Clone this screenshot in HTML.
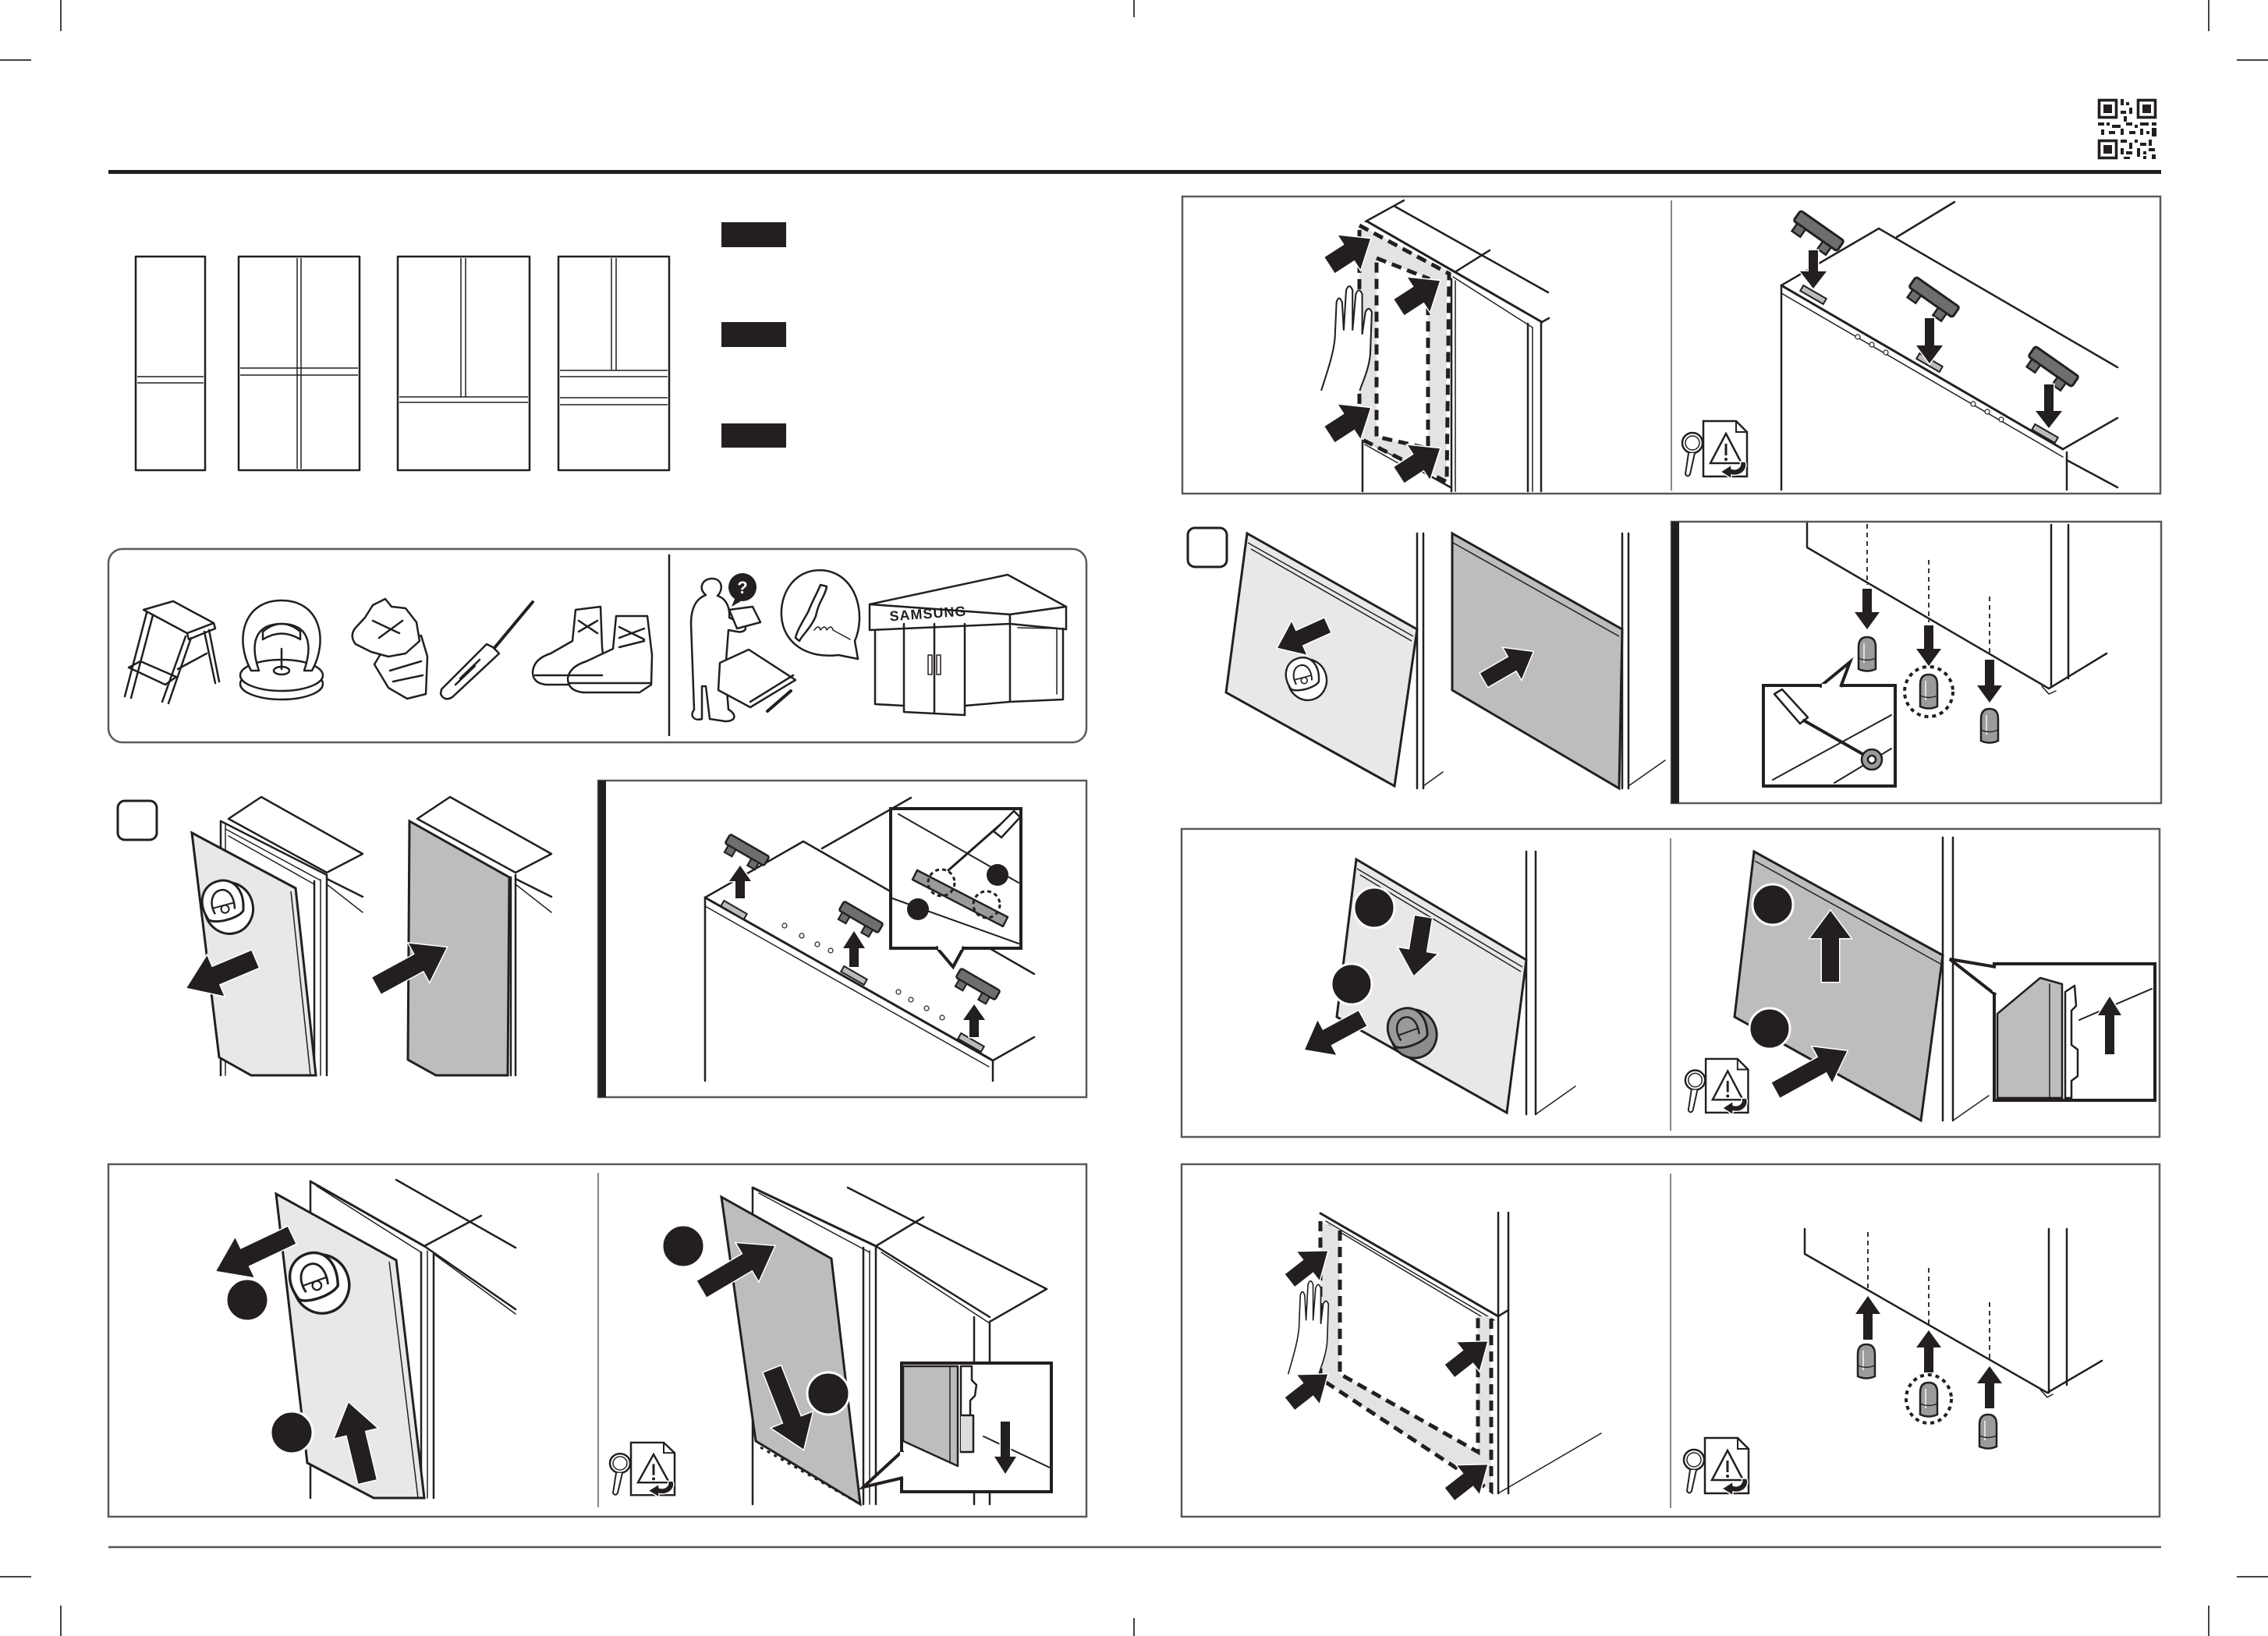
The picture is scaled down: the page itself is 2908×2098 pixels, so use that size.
<!DOCTYPE html>
<html><head><meta charset="utf-8"><style>
html,body{margin:0;padding:0;background:#fff;}
svg{display:block;}
.k{stroke:#231f20;fill:none;stroke-width:2.5;stroke-linejoin:round;stroke-linecap:round}
.t{stroke:#231f20;fill:none;stroke-width:1.5}
.g{stroke:#5a5a5a;fill:none;stroke-width:2.5}
.ar{fill:#231f20;stroke:#fff;stroke-width:3;paint-order:stroke;stroke-linejoin:miter}
.ds{stroke:#231f20;fill:none;stroke-width:5;stroke-dasharray:13 8}
.dl{stroke:#231f20;fill:none;stroke-width:1.8;stroke-dasharray:6 5}
</style></head><body>
<svg width="2908" height="2098" viewBox="0 0 2908 2098" xmlns="http://www.w3.org/2000/svg" font-family="Liberation Sans, sans-serif">
<defs>
<g id="warn">
<path d="M30,2 H72 L86,16 V73 H30 Z" fill="#fff" stroke="#231f20" stroke-width="2.5"/>
<path d="M72,2 V16 H86" fill="none" stroke="#231f20" stroke-width="2"/>
<path d="M59,18 L79,56 H39 Z" fill="#fff" stroke="#231f20" stroke-width="2.5"/>
<line x1="59" y1="31" x2="59" y2="46" stroke="#231f20" stroke-width="3"/>
<circle cx="59" cy="51" r="2" fill="#231f20"/>
<circle cx="16" cy="30" r="13" fill="#fff" stroke="#231f20" stroke-width="2.5"/>
<circle cx="16" cy="30" r="9" fill="none" stroke="#231f20" stroke-width="1.5"/>
<path d="M11,43 L7,70 Q10,75 13,70 L19,43" fill="#fff" stroke="#231f20" stroke-width="2"/>
<path d="M84,54 A15,13 0 0 1 66,71 L66,76 L52,67 L66,58 L66,63 A8,7 0 0 0 77,54 Z" fill="#231f20" stroke="#fff" stroke-width="1.5"/>
</g>
<g id="cup">
<ellipse cx="5" cy="6" rx="31" ry="33" fill="#fff" stroke="#231f20" stroke-width="3"/>
<path d="M-24,14 C-33,-12 -20,-31 0,-31 C20,-31 31,-12 22,14 C14,22 -16,22 -24,14 Z" fill="#fff" stroke="#231f20" stroke-width="3"/>
<path d="M-14,9 C-18,-8 -10,-19 0,-19 C10,-19 16,-8 12,9" fill="none" stroke="#231f20" stroke-width="2.5"/>
<line x1="-14" y1="1" x2="14" y2="1" stroke="#231f20" stroke-width="2"/>
<circle cx="0" cy="6" r="5" fill="none" stroke="#231f20" stroke-width="2"/>
</g>
<g id="cupg">
<ellipse cx="5" cy="6" rx="31" ry="33" fill="#8c8c8c" stroke="#231f20" stroke-width="3"/>
<path d="M-24,14 C-33,-12 -20,-31 0,-31 C20,-31 31,-12 22,14 C14,22 -16,22 -24,14 Z" fill="#9a9a9a" stroke="#231f20" stroke-width="3"/>
<path d="M-14,9 C-18,-8 -10,-19 0,-19 C10,-19 16,-8 12,9" fill="none" stroke="#231f20" stroke-width="2.5"/>
<line x1="-14" y1="1" x2="14" y2="1" stroke="#231f20" stroke-width="2"/>
</g>
<g id="pin">
<path d="M-11,20 V-8 Q-11,-21 0,-21 Q11,-21 11,-8 V20 Q0,25 -11,20 Z" fill="#9b9b9b" stroke="#231f20" stroke-width="2.5"/>
<path d="M-4,-13 V12" stroke="#e0e0e0" stroke-width="2"/>
<path d="M-11,6 Q0,11 11,6" fill="none" stroke="#231f20" stroke-width="1.5"/>
</g>
<g id="clip">
<rect x="-34" y="-8" width="68" height="16" rx="3" fill="#6e6e6e" stroke="#231f20" stroke-width="3"/>
<rect x="-28" y="8" width="13" height="12" fill="#6e6e6e" stroke="#231f20" stroke-width="2.5"/>
<rect x="12" y="8" width="13" height="12" fill="#6e6e6e" stroke="#231f20" stroke-width="2.5"/>
</g>
<g id="slot">
<rect x="-17" y="-4" width="34" height="8" fill="#bbb" stroke="#231f20" stroke-width="2"/>
</g>
<g id="hand">
<path d="M2,133 C10,108 17,88 19,68 L21,23 Q24,13 28,23 L30,58 L33,8 Q37,-2 41,8 L41,58 L45,13 Q49,3 53,13 L53,63 L57,35 Q61,27 65,35 L63,88 C61,108 53,123 50,133" fill="#fff" stroke="#231f20" stroke-width="2"/>
</g>
</defs>

<!-- crop marks -->
<g stroke="#444" stroke-width="2">
<line x1="78" y1="0" x2="78" y2="40"/><line x1="0" y1="77" x2="40" y2="77"/>
<line x1="1454" y1="0" x2="1454" y2="22"/>
<line x1="2832" y1="0" x2="2832" y2="40"/><line x1="2868" y1="77" x2="2908" y2="77"/>
<line x1="0" y1="2022" x2="40" y2="2022"/><line x1="78" y1="2059" x2="78" y2="2098"/>
<line x1="1454" y1="2075" x2="1454" y2="2098"/>
<line x1="2832" y1="2059" x2="2832" y2="2098"/><line x1="2868" y1="2022" x2="2908" y2="2022"/>
</g>

<!-- top and bottom rules -->
<rect x="139" y="218" width="2632" height="5" fill="#231f20"/>
<line x1="139" y1="1984" x2="2771" y2="1984" stroke="#555" stroke-width="2.5"/>

<!-- QR -->
<g fill="#231f20">
<rect x="2691.5" y="128.5" width="22" height="22" fill="none" stroke="#231f20" stroke-width="3.6"/>
<rect x="2697" y="134" width="11" height="11"/>
<rect x="2741.5" y="128.5" width="22" height="22" fill="none" stroke="#231f20" stroke-width="3.6"/>
<rect x="2747" y="134" width="11" height="11"/>
<rect x="2691.5" y="180.5" width="22" height="22" fill="none" stroke="#231f20" stroke-width="3.6"/>
<rect x="2697" y="186" width="11" height="11"/>
<rect x="2719" y="127" width="4" height="8"/><rect x="2726" y="131" width="4" height="4"/><rect x="2730" y="138" width="4" height="8"/>
<rect x="2719" y="142" width="7" height="4"/><rect x="2723" y="149" width="4" height="7"/><rect x="2690" y="157" width="8" height="4"/>
<rect x="2701" y="157" width="4" height="4"/><rect x="2708" y="160" width="11" height="4"/><rect x="2726" y="157" width="8" height="4"/>
<rect x="2737" y="160" width="4" height="4"/><rect x="2744" y="157" width="11" height="4"/><rect x="2759" y="157" width="6" height="4"/>
<rect x="2694" y="166" width="4" height="7"/><rect x="2704" y="168" width="8" height="4"/><rect x="2719" y="165" width="4" height="8"/>
<rect x="2730" y="168" width="8" height="4"/><rect x="2744" y="165" width="4" height="8"/><rect x="2752" y="168" width="4" height="4"/>
<rect x="2759" y="164" width="6" height="11"/><rect x="2719" y="179" width="8" height="4"/><rect x="2730" y="183" width="4" height="8"/>
<rect x="2737" y="179" width="4" height="4"/><rect x="2744" y="183" width="8" height="4"/><rect x="2755" y="179" width="4" height="8"/>
<rect x="2719" y="190" width="4" height="8"/><rect x="2726" y="194" width="8" height="4"/><rect x="2740" y="190" width="4" height="11"/>
<rect x="2748" y="194" width="4" height="4"/><rect x="2755" y="190" width="8" height="4"/><rect x="2723" y="201" width="8" height="3"/>
<rect x="2748" y="200" width="4" height="4"/><rect x="2759" y="198" width="5" height="6"/>
</g>

<!-- fridge type icons -->
<g>
<rect x="174" y="329" width="89" height="274" class="k"/>
<line x1="176" y1="483" x2="261" y2="483" class="t"/><line x1="176" y1="491" x2="261" y2="491" class="t"/>
<rect x="306" y="329" width="155" height="274" class="k"/>
<line x1="381" y1="331" x2="381" y2="601" class="t"/><line x1="386" y1="331" x2="386" y2="601" class="t"/>
<line x1="308" y1="472" x2="459" y2="472" class="t"/><line x1="308" y1="481" x2="459" y2="481" class="t"/>
<rect x="510" y="329" width="169" height="274" class="k"/>
<line x1="591" y1="331" x2="591" y2="509" class="t"/><line x1="597" y1="331" x2="597" y2="509" class="t"/>
<line x1="512" y1="509" x2="677" y2="509" class="t"/><line x1="512" y1="516" x2="677" y2="516" class="t"/>
<rect x="716" y="329" width="142" height="274" class="k"/>
<line x1="784" y1="331" x2="784" y2="475" class="t"/><line x1="790" y1="331" x2="790" y2="475" class="t"/>
<line x1="718" y1="475" x2="856" y2="475" class="t"/><line x1="718" y1="483" x2="856" y2="483" class="t"/>
<line x1="718" y1="510" x2="856" y2="510" class="t"/><line x1="718" y1="519" x2="856" y2="519" class="t"/>
</g>
<rect x="925" y="285" width="83" height="32" fill="#231f20"/>
<rect x="925" y="413" width="83" height="32" fill="#231f20"/>
<rect x="925" y="543" width="83" height="31" fill="#231f20"/>

<!-- tools panel -->
<rect x="139" y="704" width="1254" height="248" rx="18" class="g"/>
<line x1="858" y1="711" x2="858" y2="944" stroke="#231f20" stroke-width="2.5"/>
<!-- ladder -->
<g class="k">
<path d="M184,782 L222,771 L274,799 L240,812 Z"/>
<path d="M240,812 L242,820 L276,806 L274,799"/>
<line x1="188" y1="786" x2="160" y2="893"/><line x1="196" y1="789" x2="168" y2="895"/>
<line x1="238" y1="816" x2="208" y2="900"/><line x1="245" y1="818" x2="216" y2="902"/>
<line x1="262" y1="810" x2="276" y2="876"/><line x1="268" y1="808" x2="281" y2="874"/>
<path d="M165,856 L180,848 L226,868 L212,878 Z"/>
<line x1="228" y1="858" x2="265" y2="838"/>
</g>
<!-- suction tool -->
<g class="k" stroke-width="3">
<ellipse cx="361" cy="877" rx="53" ry="20" fill="#fff"/>
<ellipse cx="361" cy="866" rx="53" ry="20" fill="#fff"/>
<path d="M322,860 C300,820 312,770 361,770 C410,770 422,820 400,860 L390,860 C402,825 395,800 361,800 C327,800 320,825 332,860 Z" fill="#fff"/>
<path d="M337,810 Q361,790 385,810 L385,820 Q361,805 337,820 Z"/>
<line x1="361" y1="832" x2="361" y2="858"/><ellipse cx="361" cy="860" rx="10" ry="5"/>
</g>
<!-- gloves -->
<g class="k">
<path d="M492,832 L540,815 L548,842 L546,890 L522,896 L498,882 L480,852 Z" fill="#fff"/>
<path d="M455,806 L468,792 L478,776 L494,768 L502,778 L520,780 L534,798 L538,822 L520,838 L498,842 L476,836 L456,826 Q448,816 455,806 Z" fill="#fff"/>
<path d="M478,796 L512,812 M486,818 L516,796 M500,860 L540,848 M504,874 L542,866"/>
</g>
<!-- screwdriver -->
<g class="k">
<line x1="683" y1="772" x2="628" y2="838" stroke-width="4"/>
<path d="M632,830 L640,838 L580,894 Q570,900 565,890 L566,884 L624,826 Z" fill="#fff"/>
<line x1="590" y1="870" x2="615" y2="846"/><line x1="584" y1="878" x2="609" y2="854"/>
</g>
<!-- boots -->
<g class="k">
<path d="M738,782 L770,778 L772,830 L776,866 L762,878 L700,878 Q683,876 683,862 Q684,845 706,838 L734,822 Z" fill="#fff"/>
<path d="M790,790 L830,790 L836,840 L835,878 L820,888 L748,888 Q728,886 728,870 Q730,855 752,848 L786,832 Z" fill="#fff"/>
<line x1="686" y1="866" x2="772" y2="866"/><line x1="730" y1="876" x2="834" y2="876"/>
<path d="M742,796 L766,812 M742,810 L766,796 M794,804 L826,820 M794,818 L826,806 M794,830 L826,822"/>
</g>
<!-- person -->
<g class="k">
<path d="M905,763 C895,755 900,742 913,742 C926,742 928,756 920,764 C932,768 936,780 935,792 L952,800 C960,805 955,812 945,810 L934,808 L930,860 L934,910 C944,915 945,925 930,925 L910,922 L905,880 L900,880 L900,922 C890,925 884,918 890,910 L888,855 L886,800 C886,780 892,768 905,763 Z" fill="#fff"/>
<path d="M935,782 L965,778 L975,798 L945,806 Z" fill="#fff"/>
<path d="M923,850 L960,833 L1020,872 L962,907 L921,885 Z" fill="#fff"/>
<line x1="962" y1="900" x2="1017" y2="866"/>
<line x1="984" y1="912" x2="1014" y2="886" stroke-width="4"/>
</g>
<circle cx="952" cy="753" r="18" fill="#231f20"/>
<path d="M942,768 L938,778 L950,771 Z" fill="#231f20"/>
<text x="952" y="761" font-size="22" font-weight="bold" fill="#fff" text-anchor="middle">?</text>
<!-- phone bubble -->
<g class="k" stroke-width="3">
<path d="M1096,822 C1110,790 1100,740 1060,732 C1020,726 1000,760 1002,790 C1004,825 1035,845 1075,840 L1100,845 Z" fill="#fff"/>
<path d="M1052,750 L1060,752 C1058,765 1050,770 1046,790 C1040,805 1028,815 1025,822 L1020,818 C1022,808 1030,796 1036,785 C1042,770 1048,760 1052,750 Z" fill="#fff"/>
<path d="M1044,808 q6,-8 8,0 q6,-8 8,0 q6,-8 8,0 L1090,820" stroke-width="1.5"/>
</g>
<!-- store -->
<g class="k">
<path d="M1115,775 L1292,737 L1367,778 L1295,788 Z" fill="#fff"/>
<path d="M1115,775 L1295,788 L1295,800 L1115,808 Z" fill="#fff"/>
<path d="M1295,788 L1367,778 L1367,807 L1295,800 Z" fill="#fff"/>
<path d="M1122,808 L1122,903 L1159,905 M1159,800 L1159,913 L1237,917 L1237,800 M1198,800 L1198,915 M1237,905 L1295,900 L1295,800 M1295,900 L1363,897 L1363,806"/>
<path d="M1305,805 L1355,806 L1355,890" stroke-width="1.5"/>
<rect x="1190" y="840" width="5" height="25" stroke-width="1.5"/><rect x="1201" y="840" width="5" height="25" stroke-width="1.5"/>
</g>
<text x="1190" y="793" font-size="18" font-weight="bold" fill="#231f20" text-anchor="middle" letter-spacing="1" transform="rotate(-4 1190 788)">SAMSUNG</text>

<!-- STEP 1 -->
<rect x="151" y="1027" width="50" height="50" rx="9" fill="none" stroke="#231f20" stroke-width="3"/>
<g class="k">
<path d="M293,1050 L335,1022 L465,1095 L419,1119 Z"/>
<line x1="283" y1="1053" x2="283" y2="1379"/><line x1="289" y1="1058" x2="289" y2="1379" class="t"/>
<line x1="283" y1="1053" x2="419" y2="1122"/><line x1="289" y1="1063" x2="411" y2="1129" class="t"/>
<line x1="293" y1="1072" x2="403" y2="1134" class="t"/>
<line x1="403" y1="1130" x2="403" y2="1379"/><line x1="411" y1="1128" x2="411" y2="1379" class="t"/><line x1="419" y1="1122" x2="419" y2="1379"/>
<line x1="419" y1="1127" x2="465" y2="1150"/><line x1="419" y1="1134" x2="465" y2="1170" class="t"/>
</g>
<path d="M246,1068 L379,1139 L405,1379 L322,1379 L281,1356 Z" fill="#e8e8e8" stroke="#231f20" stroke-width="3"/>
<line x1="373" y1="1143" x2="398" y2="1379" stroke="#231f20" stroke-width="1.5"/>
<use href="#cup" transform="translate(287,1160) rotate(-15)"/>
<path class="ar" transform="translate(327,1230) rotate(157.2)" d="M0,-12H55V-28L95,0L55,28V12H0Z"/>
<g class="k">
<path d="M535,1050 L577,1022 L707,1095 L661,1119 Z"/>
<line x1="655" y1="1125" x2="655" y2="1379"/><line x1="661" y1="1122" x2="661" y2="1379"/>
<line x1="661" y1="1127" x2="707" y2="1150"/><line x1="661" y1="1134" x2="707" y2="1170" class="t"/>
</g>
<path d="M525,1053 L653,1125 L651,1379 L559,1379 L523,1359 Z" fill="#bdbdbd" stroke="#231f20" stroke-width="3"/>
<path class="ar" transform="translate(483,1264) rotate(-28.6)" d="M0,-12H62V-28L102,0L62,28V12H0Z"/>

<!-- STEP 1 right inset -->
<rect x="767" y="1001" width="626" height="406" class="g"/>
<rect x="767" y="1001" width="10" height="406" fill="#231f20"/>
<g class="k">
<path d="M904,1386 V1151 L1030,1079 L1326,1249"/>
<line x1="1054" y1="1088" x2="1168" y2="1023"/>
<line x1="904" y1="1151" x2="1273" y2="1360" stroke-width="3"/>
<line x1="904" y1="1162" x2="1268" y2="1368" class="t"/>
<line x1="1273" y1="1360" x2="1326" y2="1330"/>
<line x1="1273" y1="1360" x2="1273" y2="1386"/>
</g>
<g fill="#fff" stroke="#231f20" stroke-width="1.2">
<circle cx="1006" cy="1187" r="3"/><circle cx="1028" cy="1200" r="3"/><circle cx="1048" cy="1211" r="3"/><circle cx="1065" cy="1219" r="3"/>
<circle cx="1152" cy="1272" r="3"/><circle cx="1168" cy="1282" r="3"/><circle cx="1188" cy="1293" r="3"/><circle cx="1208" cy="1305" r="3"/>
</g>
<use href="#slot" transform="translate(941,1167) rotate(30)"/>
<use href="#slot" transform="translate(1095,1251) rotate(30)"/>
<use href="#slot" transform="translate(1245,1337) rotate(30)"/>
<use href="#clip" transform="translate(958,1090) rotate(30) scale(0.85)"/>
<use href="#clip" transform="translate(1104,1176) rotate(30) scale(0.85)"/>
<use href="#clip" transform="translate(1254,1262) rotate(30) scale(0.85)"/>
<path class="ar" transform="translate(949,1152) rotate(-90)" d="M0,-6H22V-14L42,0L22,14V6H0Z"/>
<path class="ar" transform="translate(1095,1240) rotate(-90)" d="M0,-6H24V-14L46,0L24,14V6H0Z"/>
<path class="ar" transform="translate(1249,1330) rotate(-90)" d="M0,-6H22V-14L42,0L22,14V6H0Z"/>
<rect x="1142" y="1037" width="167" height="179" fill="#fff" stroke="#231f20" stroke-width="4"/>
<path d="M1200,1214 L1222,1240 L1236,1214" fill="#fff" stroke="#231f20" stroke-width="4"/>
<line x1="1203" y1="1216" x2="1233" y2="1216" stroke="#fff" stroke-width="4"/>
<g class="k">
<line x1="1152" y1="1044" x2="1306" y2="1132" stroke-width="2"/>
<line x1="1144" y1="1152" x2="1306" y2="1210" stroke-width="2"/>
<path d="M1176,1116 L1292,1176 L1286,1188 L1170,1128 Z" fill="#9a9a9a"/>
<line x1="1216" y1="1116" x2="1282" y2="1058" stroke-width="3"/>
<path d="M1274,1066 L1300,1040 L1308,1048 L1284,1074 Z" fill="#fff"/>
</g>
<circle cx="1279" cy="1122" r="14" fill="#231f20"/>
<circle cx="1177" cy="1166" r="14" fill="#231f20"/>
<circle cx="1207" cy="1132" r="17" fill="none" stroke="#231f20" stroke-width="3" stroke-dasharray="5 4"/>
<circle cx="1265" cy="1160" r="17" fill="none" stroke="#231f20" stroke-width="3" stroke-dasharray="5 4"/>

<!-- bottom-left panel -->
<rect x="139" y="1493" width="1254" height="452" class="g"/>
<line x1="767" y1="1504" x2="767" y2="1933" stroke="#888" stroke-width="2"/>
<g class="k">
<line x1="398" y1="1515" x2="398" y2="1921"/>
<line x1="398" y1="1515" x2="544" y2="1598" stroke-width="3"/><line x1="406" y1="1521" x2="540" y2="1606" class="t"/>
<line x1="544" y1="1598" x2="661" y2="1679"/><line x1="556" y1="1608" x2="661" y2="1685" class="t"/>
<line x1="508" y1="1513" x2="661" y2="1600"/><line x1="617" y1="1559" x2="544" y2="1598"/>
<line x1="540" y1="1606" x2="540" y2="1921"/><line x1="548" y1="1604" x2="548" y2="1921" class="t"/><line x1="556" y1="1608" x2="556" y2="1921"/>
</g>
<path d="M354,1531 L508,1616 L544,1921 L479,1921 L394,1876 Z" fill="#e8e8e8" stroke="#231f20" stroke-width="3"/>
<line x1="499" y1="1618" x2="536" y2="1921" stroke="#231f20" stroke-width="1.5"/>
<use href="#cup" transform="translate(404,1642) rotate(-20) scale(1.15)"/>
<circle cx="317" cy="1667" r="27" fill="#231f20" stroke="#fff" stroke-width="3"/>
<circle cx="374" cy="1837" r="27" fill="#231f20" stroke="#fff" stroke-width="3"/>
<path class="ar" transform="translate(374,1584) rotate(154.6)" d="M0,-12H67V-28L107,0L67,28V12H0Z"/>
<path class="ar" transform="translate(471,1900) rotate(-103.4)" d="M0,-12H64V-28L104,0L64,28V12H0Z"/>
<g class="k">
<line x1="965" y1="1523" x2="965" y2="1929"/>
<line x1="965" y1="1523" x2="1123" y2="1598" stroke-width="3"/><line x1="973" y1="1530" x2="1115" y2="1606" class="t"/>
<line x1="1123" y1="1598" x2="1269" y2="1689"/><line x1="1130" y1="1606" x2="1269" y2="1697" class="t"/>
<line x1="1087" y1="1523" x2="1342" y2="1653"/><line x1="1184" y1="1561" x2="1123" y2="1598"/>
<line x1="1269" y1="1695" x2="1342" y2="1653"/>
<line x1="1107" y1="1600" x2="1107" y2="1929"/><line x1="1115" y1="1604" x2="1115" y2="1929" class="t"/><line x1="1123" y1="1600" x2="1123" y2="1929"/>
<line x1="1249" y1="1689" x2="1249" y2="1929"/><line x1="1269" y1="1697" x2="1269" y2="1929"/>
</g>
<path d="M925,1535 L1066,1614 L1103,1929 L969,1848 Z" fill="#bdbdbd" stroke="#231f20" stroke-width="3"/>
<line x1="975" y1="1856" x2="1098" y2="1926" stroke="#231f20" stroke-width="3" stroke-dasharray="4 6"/>
<circle cx="876" cy="1598" r="27" fill="#231f20" stroke="#fff" stroke-width="3"/>
<circle cx="1062" cy="1787" r="27" fill="#231f20" stroke="#fff" stroke-width="3"/>
<path class="ar" transform="translate(900,1653) rotate(-30.6)" d="M0,-12H68V-28L108,0L68,28V12H0Z"/>
<path class="ar" transform="translate(990,1756) rotate(68.6)" d="M0,-12H70V-28L110,0L70,28V12H0Z"/>
<rect x="1156" y="1748" width="192" height="165" fill="#fff" stroke="#231f20" stroke-width="4"/>
<path d="M1158,1860 L1107,1907 L1158,1895" fill="#fff" stroke="#231f20" stroke-width="4"/>
<line x1="1156" y1="1862" x2="1156" y2="1893" stroke="#fff" stroke-width="4"/>
<g class="k">
<path d="M1158,1752 L1228,1752 L1228,1880 L1158,1848 Z" fill="#bdbdbd"/>
<line x1="1218" y1="1752" x2="1218" y2="1875" class="t"/>
<path d="M1232,1752 L1246,1752 L1246,1770 L1252,1776 L1250,1790 L1244,1796 L1244,1862 L1232,1862 Z" fill="#fff"/>
<path d="M1232,1815 L1248,1815 L1248,1862 L1232,1862" fill="#ddd"/>
<line x1="1261" y1="1842" x2="1346" y2="1882" stroke-width="2"/>
</g>
<path class="ar" transform="translate(1289,1823) rotate(90)" d="M0,-6H45V-14L67,0L45,14V6H0Z"/>
<use href="#warn" transform="translate(779,1848) scale(1,0.95)"/>

<!-- PANEL A -->
<rect x="1516" y="252" width="1254" height="381" class="g"/>
<line x1="2143" y1="257" x2="2143" y2="629" stroke="#888" stroke-width="2"/>
<g class="k">
<line x1="1751" y1="284" x2="1800" y2="257"/>
<line x1="1789" y1="265" x2="1985" y2="375"/>
<line x1="1910" y1="321" x2="1867" y2="348"/>
<line x1="1753" y1="284" x2="1977" y2="413" stroke-width="3"/>
<line x1="1863" y1="355" x2="1965" y2="420" class="t"/>
<line x1="1959" y1="415" x2="1959" y2="630"/><line x1="1965" y1="420" x2="1965" y2="630" class="t"/><line x1="1976" y1="413" x2="1976" y2="630"/>
<line x1="1977" y1="413" x2="1986" y2="408"/>
<line x1="1861" y1="358" x2="1861" y2="630"/><line x1="1866" y1="360" x2="1866" y2="630" class="t"/>
<line x1="1747" y1="562" x2="1747" y2="630"/>
<line x1="1747" y1="562" x2="1860" y2="625"/><line x1="1750" y1="570" x2="1800" y2="598" class="t"/>
</g>
<path d="M1743,289 L1863,350 L1855,352 L1855,618 L1743,562 Z M1765,331 L1831,357 L1831,575 L1765,560 Z" fill="#e3e3e3" fill-rule="evenodd"/>
<path d="M1743,289 L1858,351 L1855,618 L1743,562 Z" class="ds"/>
<path d="M1765,331 L1831,357 L1831,575 L1765,560 Z" class="ds"/>
<use href="#hand" transform="translate(1692,364) scale(1.03,1.03)"/>
<path class="ar" transform="translate(1705,340) rotate(-33)" d="M0,-12H30V-26L62,0L30,26V12H0Z"/>
<path class="ar" transform="translate(1794,394) rotate(-33)" d="M0,-12H30V-26L62,0L30,26V12H0Z"/>
<path class="ar" transform="translate(1705,557) rotate(-33)" d="M0,-12H30V-26L62,0L30,26V12H0Z"/>
<path class="ar" transform="translate(1794,609) rotate(-33)" d="M0,-12H30V-26L62,0L30,26V12H0Z"/>
<g class="k">
<line x1="2506" y1="259" x2="2432" y2="304"/>
<line x1="2409" y1="293" x2="2284" y2="366"/>
<line x1="2409" y1="293" x2="2715" y2="471"/>
<line x1="2284" y1="366" x2="2645" y2="576" stroke-width="3"/>
<line x1="2284" y1="376" x2="2645" y2="586" class="t"/>
<line x1="2645" y1="576" x2="2715" y2="536"/>
<line x1="2284" y1="366" x2="2284" y2="628"/>
<line x1="2650" y1="580" x2="2650" y2="628"/>
<line x1="2650" y1="590" x2="2715" y2="625"/>
</g>
<g fill="#fff" stroke="#231f20" stroke-width="1.2">
<circle cx="2382" cy="432" r="3"/><circle cx="2400" cy="442" r="3"/><circle cx="2418" cy="452" r="3"/>
<circle cx="2530" cy="518" r="3"/><circle cx="2548" cy="528" r="3"/><circle cx="2566" cy="538" r="3"/>
</g>
<use href="#slot" transform="translate(2325,378) rotate(30)"/>
<use href="#slot" transform="translate(2474,465) rotate(30)"/>
<use href="#slot" transform="translate(2622,556) rotate(30)"/>
<use href="#clip" transform="translate(2332,296) rotate(35)"/>
<use href="#clip" transform="translate(2480,381) rotate(35)"/>
<use href="#clip" transform="translate(2633,470) rotate(35)"/>
<path class="ar" transform="translate(2325,321) rotate(90)" d="M0,-6H27V-17L49,0L27,17V6H0Z"/>
<path class="ar" transform="translate(2474,408) rotate(90)" d="M0,-6H35V-17L58,0L35,17V6H0Z"/>
<path class="ar" transform="translate(2627,493) rotate(90)" d="M0,-6H34V-17L56,0L34,17V6H0Z"/>
<use href="#warn" transform="translate(2154,538)"/>

<!-- STEP 2 (panel B) -->
<rect x="1523" y="677" width="50" height="50" rx="9" fill="none" stroke="#231f20" stroke-width="3"/>
<g class="k">
<line x1="1817" y1="684" x2="1817" y2="1011"/><line x1="1825" y1="684" x2="1825" y2="1011"/>
<line x1="1825" y1="1008" x2="1850" y2="990" class="t"/>
<line x1="2080" y1="684" x2="2080" y2="1011"/><line x1="2088" y1="684" x2="2088" y2="1011"/>
<line x1="2088" y1="1008" x2="2135" y2="975" class="t"/>
</g>
<path d="M1599,684 L1817,807 L1788,1008 L1572,888 Z" fill="#e8e8e8" stroke="#231f20" stroke-width="3"/>
<line x1="1600" y1="696" x2="1812" y2="816" stroke="#231f20" stroke-width="1.5"/>
<line x1="1604" y1="704" x2="1810" y2="822" stroke="#231f20" stroke-width="1.5"/>
<use href="#cup" transform="translate(1671,868) rotate(-15) scale(0.8)"/>
<path class="ar" transform="translate(1702,802) rotate(155.7)" d="M0,-10H40V-23L70,0L40,23V10H0Z"/>
<path d="M1862,684 L2080,807 L2076,1011 L1862,885 Z" fill="#bdbdbd" stroke="#231f20" stroke-width="3"/>
<line x1="1863" y1="696" x2="2076" y2="816" stroke="#231f20" stroke-width="1.5"/>
<path class="ar" transform="translate(1903,872) rotate(-30)" d="M0,-10H42V-23L72,0L42,23V10H0Z"/>
<rect x="2143" y="669" width="628" height="361" class="g"/>
<rect x="2143" y="669" width="10" height="361" fill="#231f20"/>
<g class="k">
<path d="M2317,671 V702 L2627,883 L2701,838"/>
<line x1="2630" y1="673" x2="2630" y2="880"/><line x1="2652" y1="673" x2="2652" y2="870"/>
<path d="M2618,880 L2627,890 L2636,886" class="t"/>
</g>
<line x1="2394" y1="672" x2="2394" y2="750" class="dl"/>
<line x1="2473" y1="718" x2="2473" y2="798" class="dl"/>
<line x1="2551" y1="765" x2="2551" y2="842" class="dl"/>
<path class="ar" transform="translate(2394,755) rotate(90)" d="M0,-6H30V-16L52,0L30,16V6H0Z"/>
<path class="ar" transform="translate(2473,802) rotate(90)" d="M0,-6H30V-16L52,0L30,16V6H0Z"/>
<path class="ar" transform="translate(2551,846) rotate(90)" d="M0,-6H33V-16L55,0L33,16V6H0Z"/>
<use href="#pin" transform="translate(2394,838)"/>
<use href="#pin" transform="translate(2473,886)"/>
<use href="#pin" transform="translate(2551,930)"/>
<ellipse cx="2473" cy="887" rx="31" ry="32" fill="none" stroke="#231f20" stroke-width="4" stroke-dasharray="5 5"/>
<rect x="2261" y="879" width="169" height="129" fill="#fff" stroke="#231f20" stroke-width="4"/>
<path d="M2333,881 L2372,849 L2360,881" fill="#fff" stroke="#231f20" stroke-width="4"/>
<line x1="2336" y1="879" x2="2358" y2="879" stroke="#fff" stroke-width="4"/>
<g class="k">
<line x1="2273" y1="1000" x2="2425" y2="917" stroke-width="2"/>
<line x1="2352" y1="1004" x2="2425" y2="960" stroke-width="2"/>
<path d="M2275,890 L2285,884 L2318,920 L2308,928 Z" fill="#fff"/>
<line x1="2313" y1="924" x2="2390" y2="968" stroke-width="4"/>
<circle cx="2400" cy="974" r="13" fill="#9a9a9a"/>
<circle cx="2400" cy="974" r="5" fill="#fff"/>
</g>

<!-- PANEL C -->
<rect x="1515" y="1063" width="1254" height="395" class="g"/>
<line x1="2142" y1="1075" x2="2142" y2="1450" stroke="#888" stroke-width="2"/>
<g class="k">
<line x1="1957" y1="1092" x2="1957" y2="1429"/><line x1="1969" y1="1092" x2="1969" y2="1429"/>
<line x1="1969" y1="1429" x2="2020" y2="1393" class="t"/>
<line x1="2491" y1="1074" x2="2491" y2="1437"/><line x1="2504" y1="1074" x2="2504" y2="1437"/>
<line x1="2504" y1="1437" x2="2550" y2="1405" class="t"/>
</g>
<path d="M1739,1102 L1957,1231 L1932,1427 L1714,1304 Z" fill="#e8e8e8" stroke="#231f20" stroke-width="3"/>
<line x1="1740" y1="1114" x2="1952" y2="1240" stroke="#231f20" stroke-width="1.5"/>
<line x1="1744" y1="1122" x2="1950" y2="1246" stroke="#231f20" stroke-width="1.5"/>
<circle cx="1762" cy="1164" r="26" fill="#231f20" stroke="#fff" stroke-width="3"/>
<circle cx="1733" cy="1262" r="26" fill="#231f20" stroke="#fff" stroke-width="3"/>
<path class="ar" transform="translate(1825,1176) rotate(99.3)" d="M0,-11H44V-25L76,0L44,25V11H0Z"/>
<path class="ar" transform="translate(1747,1306) rotate(151.6)" d="M0,-11H52V-25L84,0L52,25V11H0Z"/>
<use href="#cupg" transform="translate(1806,1322) rotate(-20) scale(0.95)"/>
<path d="M2249,1092 L2491,1225 L2463,1437 L2224,1304 Z" fill="#bdbdbd" stroke="#231f20" stroke-width="3"/>
<line x1="2250" y1="1104" x2="2488" y2="1236" stroke="#231f20" stroke-width="1.5"/>
<circle cx="2273" cy="1160" r="26" fill="#231f20" stroke="#fff" stroke-width="3"/>
<circle cx="2269" cy="1319" r="26" fill="#231f20" stroke="#fff" stroke-width="3"/>
<path class="ar" transform="translate(2347,1259) rotate(-90)" d="M0,-11H56V-26L91,0L56,26V11H0Z"/>
<path class="ar" transform="translate(2277,1398) rotate(-28.8)" d="M0,-11H68V-26L104,0L68,26V11H0Z"/>
<use href="#warn" transform="translate(2158,1356) scale(0.97)"/>
<rect x="2557" y="1236" width="206" height="175" fill="#fff" stroke="#231f20" stroke-width="4"/>
<path d="M2559,1240 L2500,1230 L2559,1276" fill="#fff" stroke="#231f20" stroke-width="4"/>
<line x1="2557" y1="1242" x2="2557" y2="1272" stroke="#fff" stroke-width="4"/>
<g class="k">
<path d="M2561,1300 L2616,1254 L2644,1262 L2644,1408 L2561,1408 Z" fill="#bdbdbd"/>
<line x1="2628" y1="1262" x2="2628" y2="1408" class="t"/>
<path d="M2648,1272 L2660,1264 L2662,1290 L2656,1296 L2656,1340 L2664,1346 L2664,1380 L2656,1386 L2656,1408 L2648,1408 Z" fill="#fff"/>
<line x1="2666" y1="1308" x2="2759" y2="1268" stroke-width="2"/>
</g>
<path class="ar" transform="translate(2705,1352) rotate(-90)" d="M0,-6H50V-15L74,0L50,15V6H0Z"/>

<!-- PANEL D -->
<rect x="1515" y="1493" width="1254" height="452" class="g"/>
<line x1="2142" y1="1505" x2="2142" y2="1934" stroke="#888" stroke-width="2"/>
<g class="k">
<line x1="1693" y1="1556" x2="1921" y2="1688" stroke-width="3"/>
<line x1="1700" y1="1566" x2="1916" y2="1693" class="t"/>
<line x1="1703" y1="1571" x2="1914" y2="1697" class="t"/>
<line x1="1921" y1="1555" x2="1921" y2="1915"/><line x1="1934" y1="1555" x2="1934" y2="1915"/>
<line x1="1921" y1="1915" x2="2053" y2="1838" class="t"/>
<line x1="1921" y1="1688" x2="1934" y2="1680"/>
</g>
<path d="M1693,1566 L1693,1768 L1912,1912 L1912,1688 L1895,1688 L1895,1862 L1718,1762 L1718,1578 Z" fill="#e3e3e3"/>
<path d="M1693,1566 L1693,1768 L1912,1912 L1912,1688" class="ds"/>
<path d="M1718,1578 L1718,1762 L1895,1862 L1895,1688" class="ds"/>
<use href="#hand" transform="translate(1650,1640) scale(0.82,0.92)"/>
<path class="ar" transform="translate(1654,1642) rotate(-38)" d="M0,-10H30V-23L61,0L30,23V10H0Z"/>
<path class="ar" transform="translate(1654,1800) rotate(-38)" d="M0,-10H30V-23L61,0L30,23V10H0Z"/>
<path class="ar" transform="translate(1859,1758) rotate(-38)" d="M0,-10H30V-23L61,0L30,23V10H0Z"/>
<path class="ar" transform="translate(1859,1916) rotate(-38)" d="M0,-10H30V-23L61,0L30,23V10H0Z"/>
<g class="k">
<path d="M2314,1576 V1608 L2625,1786 L2695,1745"/>
<line x1="2627" y1="1576" x2="2627" y2="1786"/><line x1="2650" y1="1576" x2="2650" y2="1776"/>
<path d="M2616,1782 L2625,1792 L2632,1788" class="t"/>
</g>
<line x1="2395" y1="1580" x2="2395" y2="1652" class="dl"/>
<line x1="2473" y1="1626" x2="2473" y2="1702" class="dl"/>
<line x1="2551" y1="1670" x2="2551" y2="1746" class="dl"/>
<path class="ar" transform="translate(2395,1718) rotate(-90)" d="M0,-6H33V-16L56,0L33,16V6H0Z"/>
<path class="ar" transform="translate(2473,1760) rotate(-90)" d="M0,-6H32V-16L54,0L32,16V6H0Z"/>
<path class="ar" transform="translate(2551,1806) rotate(-90)" d="M0,-6H32V-16L54,0L32,16V6H0Z"/>
<use href="#pin" transform="translate(2393,1745)"/>
<use href="#pin" transform="translate(2473,1794)"/>
<use href="#pin" transform="translate(2549,1835)"/>
<ellipse cx="2473" cy="1794" rx="29" ry="31" fill="none" stroke="#231f20" stroke-width="4" stroke-dasharray="5 5"/>
<use href="#warn" transform="translate(2156,1842)"/>
</svg>
</body></html>
